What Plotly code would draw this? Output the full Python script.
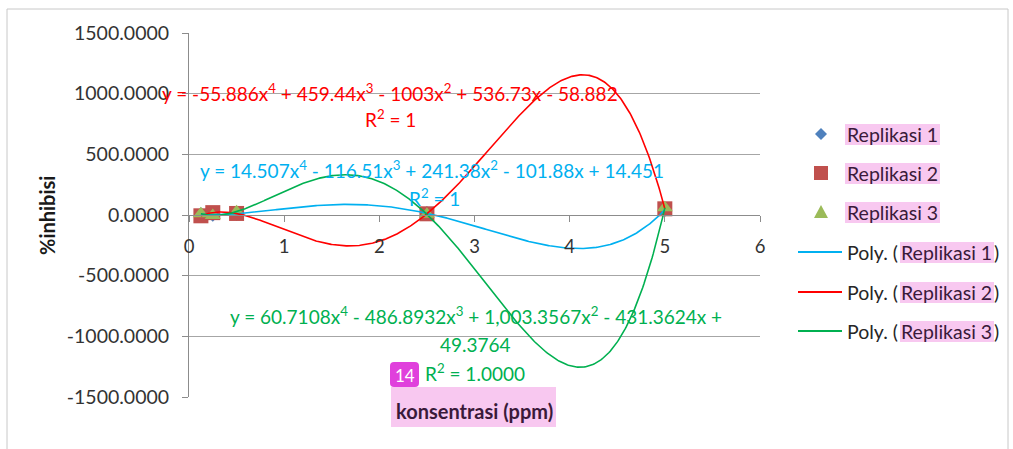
import numpy as np
import plotly.graph_objects as go

W, H = 1013, 449

# ---------------- data ----------------
konsentrasi = [0.125, 0.25, 0.5, 2.5, 5.0]
replikasi_1 = [5.2635, 2.3034, 10.1989, 14.587, 42.676]
replikasi_2 = [-6.5789, 19.573, 12.670, 9.896, 51.018]
replikasi_3 = [10.1974, -3.1250, 27.4672, 5.7591, 59.0814]

series_names = ["Replikasi 1", "Replikasi 2", "Replikasi 3"]
marker_colors = ["#4f81bd", "#c0504d", "#9bbb59"]
marker_symbols = ["diamond", "square", "triangle-up"]
marker_sizes = [11, 15, 14]
trend_colors = ["#00b0f0", "#ff0000", "#00b050"]

y_ticks = [-1500, -1000, -500, 0, 500, 1000, 1500]
x_ticks = [0, 1, 2, 3, 4, 5, 6]

eq_red = "y = -55.886x<sup>4</sup> + 459.44x<sup>3</sup> - 1003x<sup>2</sup> + 536.73x - 58.882"
eq_blue = "y = 14.507x<sup>4</sup> - 116.51x<sup>3</sup> + 241.38x<sup>2</sup> - 101.88x + 14.451"
eq_green_1 = "y = 60.7108x<sup>4</sup> - 486.8932x<sup>3</sup> + 1,003.3567x<sup>2</sup> - 431.3624x +"
eq_green_2 = "49.3764"
r2_red = "R<sup>2</sup> = 1"
r2_blue = "R<sup>2</sup> = 1"
r2_green = "R<sup>2</sup> = 1.0000"

FONT = "Lato"


def px(x):
    return x / W


def py(y):
    return 1 - y / H


data_series = [replikasi_1, replikasi_2, replikasi_3]

fig = go.Figure()

# markers
for name, ys, c, s, sz in zip(series_names, data_series, marker_colors, marker_symbols, marker_sizes):
    fig.add_trace(go.Scatter(
        x=konsentrasi, y=ys, mode="markers", name=name,
        marker=dict(color=c, symbol=s, size=sz, line=dict(width=0)),
        showlegend=False,
    ))

# polynomial trendlines (order 4) fitted to the data
xs = np.linspace(min(konsentrasi), max(konsentrasi), 400)
for name, ys, c in zip(series_names, data_series, trend_colors):
    coef = np.polyfit(konsentrasi, ys, 4)
    fig.add_trace(go.Scatter(
        x=xs, y=np.polyval(coef, xs), mode="lines", name="Poly. (" + name + ")",
        line=dict(color=c, width=1.6), showlegend=False,
    ))

# ---------------- layout ----------------
x0, x1 = 189, 760
y_top, y_bot = 33, 397
y_zero = 215

fig.update_layout(
    template="none",
    width=W, height=H, autosize=False,
    margin=dict(l=0, r=0, t=0, b=0, pad=0),
    paper_bgcolor="white", plot_bgcolor="white",
    font=dict(family=FONT, color="#333333", size=18),
    hovermode=False,
    xaxis=dict(
        domain=[px(x0), px(x1)], range=[0, 6], tickvals=x_ticks,
        ticktext=[str(v) for v in x_ticks],
        anchor="free", position=py(y_zero), automargin=False,
        showline=True, linecolor="#8c8c8c", linewidth=1,
        ticks="outside", ticklen=6, tickcolor="#8c8c8c", tickwidth=1,
        showgrid=False, zeroline=False, ticklabelstandoff=9,
        tickfont=dict(size=18.5, color="#333333"),
    ),
    yaxis=dict(
        domain=[py(y_bot), py(y_top)], range=[-1500, 1500], tickvals=y_ticks,
        ticktext=[f"{v:.4f}" for v in y_ticks], automargin=False,
        showline=True, linecolor="#8c8c8c", linewidth=1,
        ticks="outside", ticklen=6, tickcolor="#8c8c8c", tickwidth=1,
        showgrid=True, gridcolor="#a6a6a6", gridwidth=1, zeroline=False,
        ticklabelstandoff=9,
        tickfont=dict(size=19.5, color="#333333"),
    ),
    showlegend=False,
)

shapes = []
annotations = []

# chart outer border
shapes.append(dict(type="rect", xref="paper", yref="paper",
                   x0=px(7), x1=px(1008), y0=py(470), y1=py(9),
                   line=dict(color="#c8c8c8", width=1), layer="below"))

PINK = "#f8c8f0"


def pink(xa, xb, ya, yb):
    shapes.append(dict(type="rect", xref="paper", yref="paper",
                       x0=px(xa), x1=px(xb), y0=py(yb), y1=py(ya),
                       fillcolor=PINK, line=dict(width=0), layer="below"))


def text(t, x, y, color="#333333", size=18, xanchor="center", bold=False, angle=0):
    if bold:
        t = "<b>" + t + "</b>"
    annotations.append(dict(text=t, x=px(x), y=py(y), xref="paper", yref="paper",
                            xanchor=xanchor, yanchor="middle", showarrow=False,
                            textangle=angle, borderpad=0,
                            font=dict(family=FONT, size=size, color=color)))


EQ = 19
# equations
text(eq_red, 390, 92, color=trend_colors[1], size=EQ)
text(r2_red, 390, 118, color=trend_colors[1], size=EQ)
text(eq_blue, 432, 170, color=trend_colors[0], size=EQ)
text(r2_blue, 434, 197, color=trend_colors[0], size=EQ)
text(eq_green_1, 476, 315, color=trend_colors[2], size=EQ)
text(eq_green_2, 475, 344, color=trend_colors[2], size=EQ)
text(r2_green, 475, 372, color=trend_colors[2], size=EQ)

# axis titles
text("%inhibisi", 47, 216, color="#1a1a1a", size=20, bold=True, angle=-90)
pink(391, 556, 387, 427)
text("konsentrasi (ppm)", 474, 411, color="#3a1a3a", size=20, bold=True)

# badge "14"
bx0, bx1, by0, by1, r = 390, 419, 362, 387, 4
path = (f"M{px(bx0 + r)},{py(by0)} L{px(bx1 - r)},{py(by0)} Q{px(bx1)},{py(by0)} {px(bx1)},{py(by0 + r)} "
        f"L{px(bx1)},{py(by1 - r)} Q{px(bx1)},{py(by1)} {px(bx1 - r)},{py(by1)} "
        f"L{px(bx0 + r)},{py(by1)} Q{px(bx0)},{py(by1)} {px(bx0)},{py(by1 - r)} "
        f"L{px(bx0)},{py(by0 + r)} Q{px(bx0)},{py(by0)} {px(bx0 + r)},{py(by0)} Z")
shapes.append(dict(type="path", xref="paper", yref="paper", path=path,
                   fillcolor="#e040dc", line=dict(width=0), layer="above"))
text("14", (bx0 + bx1) / 2, (by0 + by1) / 2 + 1, color="white", size=17)

# manual legend
leg_marker_x = 821
leg_text_x = 846
rows_marker = [134, 173, 212]
rows_line = [252, 292, 331]
LEG = 19.5

# diamond
cx, cy, h = leg_marker_x, rows_marker[0], 6
shapes.append(dict(type="path", xref="paper", yref="paper",
                   path=f"M{px(cx)},{py(cy - h)} L{px(cx + h)},{py(cy)} L{px(cx)},{py(cy + h)} L{px(cx - h)},{py(cy)} Z",
                   fillcolor=marker_colors[0], line=dict(width=0), layer="above"))
# square
cx, cy, h = leg_marker_x, rows_marker[1], 7
shapes.append(dict(type="rect", xref="paper", yref="paper",
                   x0=px(cx - h), x1=px(cx + h), y0=py(cy + h), y1=py(cy - h),
                   fillcolor=marker_colors[1], line=dict(width=0), layer="above"))
# triangle
cx, cy, h = leg_marker_x, rows_marker[2], 7
shapes.append(dict(type="path", xref="paper", yref="paper",
                   path=f"M{px(cx)},{py(cy - h)} L{px(cx + h)},{py(cy + 6)} L{px(cx - h)},{py(cy + 6)} Z",
                   fillcolor=marker_colors[2], line=dict(width=0), layer="above"))

for name, yy in zip(series_names, rows_marker):
    pink(845, 940, yy - 10, yy + 11)
    text(name, leg_text_x, yy, color="#3a1a3a", size=LEG, xanchor="left")

for name, yy, c in zip(series_names, rows_line, trend_colors):
    shapes.append(dict(type="line", xref="paper", yref="paper",
                       x0=px(798), x1=px(842), y0=py(yy), y1=py(yy),
                       line=dict(color=c, width=2), layer="above"))
    text("Poly. (", 846, yy, color="#262626", size=LEG, xanchor="left")
    pink(900, 994, yy - 10, yy + 11)
    text(name, 900, yy, color="#3a1a3a", size=LEG, xanchor="left")
    text(")", 993, yy, color="#262626", size=LEG, xanchor="left")

fig.update_layout(shapes=shapes, annotations=annotations)

fig.write_html("out.html", config={"displayModeBar": False, "staticPlot": True},
               post_script="document.body.style.margin='0px';")
